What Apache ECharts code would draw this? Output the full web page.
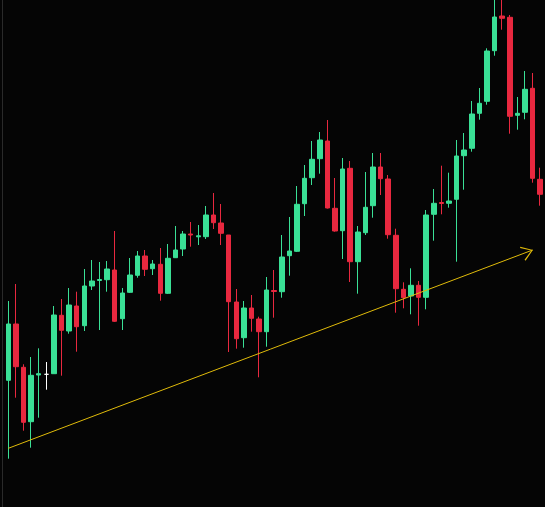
<!DOCTYPE html>
<html>
<head>
<meta charset="utf-8">
<script src="https://cdn.jsdelivr.net/npm/echarts@6/dist/echarts.min.js"></script>
<style>
  html, body { margin: 0; padding: 0; background: #050505; }
  #chart { width: 545px; height: 507px; }
</style>
</head>
<body>
<div id="chart"></div>
<script>
// one entry per session, [open, close, low, high]
const opens  = [112.67, 118.3, 113.97, 108.53, 113.2, 113.27, 113.33, 119.17, 117.6, 120.1,
                118.13, 122.1, 122.65, 122.73, 123.7, 118.83, 121.47, 123.17, 125.1, 123.83,
                124.27, 121.37, 124.93, 125.8, 127.3, 127.02, 127.03, 129.2, 128.4, 127.2,
                120.5, 116.93, 119.9, 118.8, 117.53, 121.65, 121.53, 125.13, 125.57, 130.33,
                132.93, 134.83, 136.6, 129.87, 127.63, 133.87, 124.53, 127.43, 130.13, 134.0,
                132.8, 127.17, 121.77, 121.1, 122.17, 120.97, 129.27, 130.45, 130.37, 130.77,
                135.13, 135.87, 139.37, 140.57, 145.63, 149.1, 148.97, 139.17, 139.47, 141.87,
                132.77]
const closes = [118.3, 114.03, 108.47, 113.17, 113.33, 113.27, 119.2, 117.67, 120.2, 118.03,
                122.1, 122.6, 122.75, 123.8, 118.57, 121.4, 123.2, 125.1, 123.77, 124.3,
                121.37, 124.87, 125.7, 127.3, 127.2, 127.12, 129.2, 128.43, 127.37, 120.53,
                116.83, 119.9, 118.87, 117.53, 121.7, 121.55, 125.0, 125.6, 130.27, 132.87,
                134.77, 136.7, 129.9, 127.6, 133.8, 124.53, 127.5, 129.97, 134.0, 132.83,
                127.23, 121.83, 120.93, 122.17, 120.97, 129.2, 130.37, 130.35, 130.6, 135.1,
                135.7, 139.3, 140.37, 145.6, 149.0, 148.87, 139.07, 139.37, 141.77, 132.87,
                131.27]
const lows   = [104.83, 110.93, 107.63, 105.93, 108.93, 111.73, 113.33, 113.13, 117.33, 115.53,
                117.6, 121.7, 117.7, 121.53, 118.5, 117.7, 121.4, 122.93, 123.1, 123.2,
                120.63, 121.3, 124.9, 125.1, 126.03, 126.2, 126.8, 127.8, 126.2, 115.5,
                115.83, 115.93, 117.53, 112.97, 116.03, 118.93, 120.93, 123.13, 125.5, 129.1,
                132.2, 133.33, 129.85, 127.53, 124.8, 122.5, 121.33, 127.2, 128.93, 131.2,
                126.83, 119.43, 119.87, 119.27, 118.13, 119.77, 126.63, 129.27, 129.93, 124.53,
                131.73, 135.53, 138.73, 140.23, 145.13, 147.73, 137.33, 137.73, 138.77, 132.43,
                130.13]
const highs  = [120.6, 122.3, 114.27, 115.0, 115.87, 114.5, 120.1, 120.8, 121.9, 121.53,
                123.8, 124.7, 124.5, 124.6, 127.6, 121.9, 124.9, 125.6, 125.7, 124.7,
                125.9, 126.3, 128.1, 127.6, 128.5, 128.2, 130.1, 131.4, 130.3, 127.2,
                121.8, 120.6, 121.2, 119.03, 123.0, 123.7, 127.2, 129.0, 132.1, 134.2,
                136.6, 137.5, 138.7, 132.9, 134.9, 134.6, 128.1, 133.5, 135.4, 135.4,
                133.2, 127.83, 122.47, 123.87, 122.6, 129.7, 131.8, 134.13, 133.43, 136.7,
                137.4, 140.6, 141.9, 145.87, 150.7, 150.7, 149.2, 141.0, 143.6, 143.4,
                133.93]

// trend line: [session index, price] at each end
const trendFrom = [0, 105.87]
const trendTo = [69, 125.7]

const days = opens.map((_, i) => String(i + 1))
const candles = opens.map((o, i) => [o, closes[i], lows[i], highs[i]])

// open chevron, the empty point on top keeps the tip at the symbol centre
const arrowHead = 'path://M5,0 L5,0.01 Z M0,20 L5,10 L10,20 L9.2,20.6 L5,11.6 L0.8,20.6 Z'

const chart = echarts.init(document.getElementById('chart'))

chart.setOption({
  backgroundColor: '#050505',
  animation: false,
  grid: { left: 4.5, right: 1, top: 0, bottom: 0 },
  xAxis: {
    type: 'category',
    data: days,
    show: false
  },
  yAxis: {
    type: 'value',
    min: 100,
    max: 150.7,
    offset: 2.5,
    axisLine: { show: true, lineStyle: { color: '#2a2a2a', width: 1 } },
    axisTick: { show: false },
    axisLabel: { show: false },
    splitLine: { show: false }
  },
  series: [{
    type: 'candlestick',
    data: candles,
    barWidth: 5,
    itemStyle: {
      color: '#3ae096',
      color0: '#e8283f',
      borderColor: '#3ae096',
      borderColor0: '#e8283f',
      borderColorDoji: '#ffffff',
      borderWidth: 1
    },
    markLine: {
      silent: true,
      symbol: ['none', arrowHead],
      symbolSize: [15, 22],
      label: { show: false },
      lineStyle: { color: '#e0bb0a', width: 1, type: 'solid' },
      data: [[
        { coord: trendFrom },
        { coord: trendTo }
      ]]
    }
  }]
})
</script>
</body>
</html>
